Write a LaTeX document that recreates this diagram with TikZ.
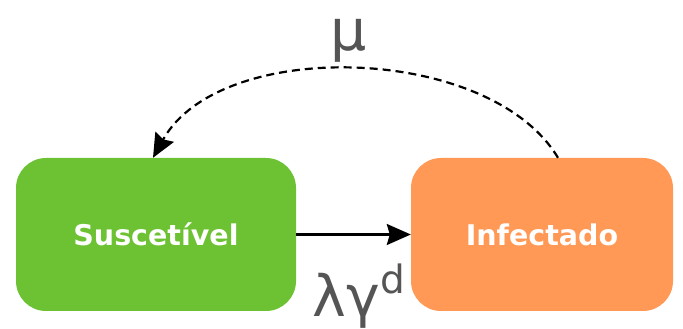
\documentclass[tikz,border=0pt]{standalone}
\usepackage{fontspec}
\setmainfont{DejaVu Sans}
\usetikzlibrary{arrows.meta}
\definecolor{susgreen}{HTML}{6DC234}
\definecolor{infor}{HTML}{FF9955}
\definecolor{lblgray}{HTML}{555555}
\begin{document}
\begin{tikzpicture}[x=1pt,y=1pt,
  state/.style={rounded corners=30pt, minimum height=153pt, inner sep=0pt,
    text=white, font=\bfseries\fontsize{28.5}{32}\selectfont},
  rate/.style={text=lblgray, font=\fontsize{57}{64}\selectfont, inner sep=0pt},
  tip/.style={-{Stealth[length=24pt,width=21pt,inset=3pt]}},
  flow/.style={line width=2.2pt, tip},
  back/.style={line width=2.2pt, dash pattern=on 8pt off 5pt, tip},
]
\useasboundingbox (0,0) rectangle (683,329);
% the two compartments
\node[state, fill=susgreen, minimum width=280pt] (S) at (156,94.5) {Suscetível};
\node[state, fill=infor, minimum width=262pt] (I) at (542,94.5) {Infectado};
% infection
\draw[flow] (S.east) -- (I.west);
% recovery back to susceptible
\draw[back] ([xshift=16pt]I.north) .. controls (490,285) and (220,292) .. ([xshift=-3pt]S.north);
% rates
\node[rate, anchor=base] (mu) at (349,278) {μ};
\node[rate, anchor=base] (lg) at (359,12) {λγ\raisebox{23pt}{\fontsize{39}{44}\selectfont d}};
\end{tikzpicture}
\end{document}
